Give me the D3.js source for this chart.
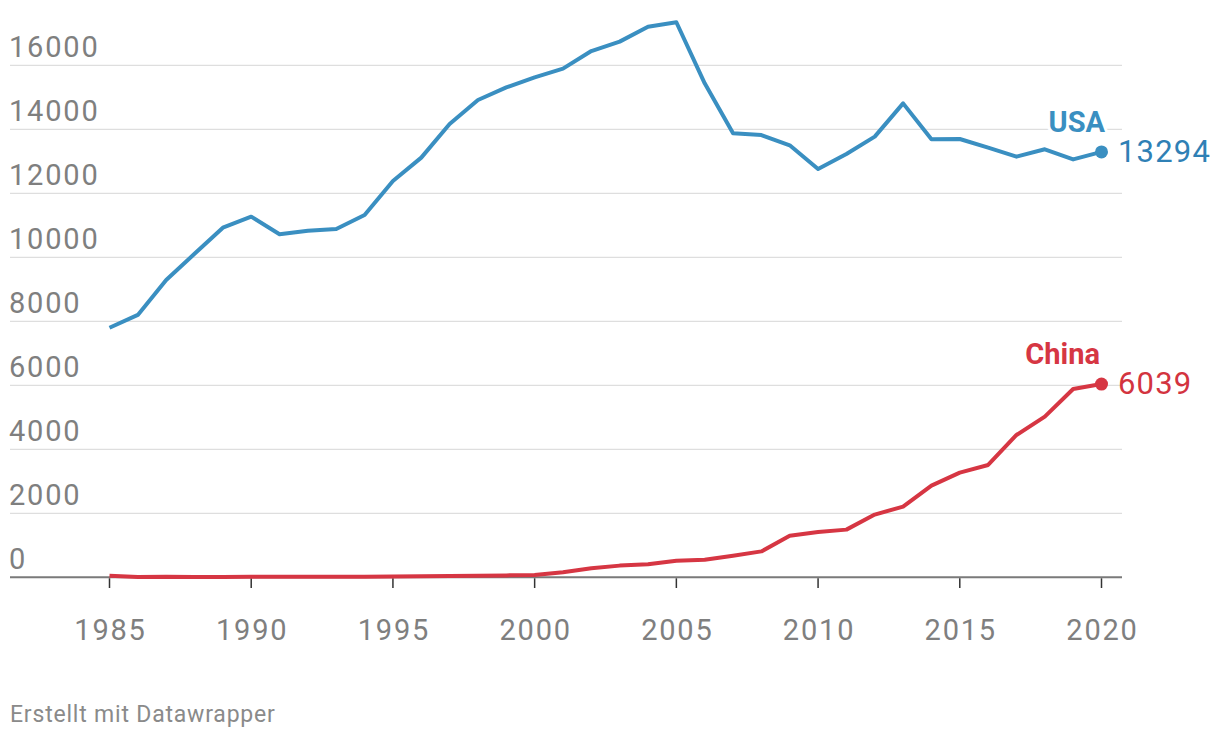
<html>
<head>
<meta charset="utf-8">
<script src="https://d3js.org/d3.v7.min.js"></script>
<style>
    body { margin: 0; background: #fff; }
    text { font-family: Roboto, "Noto Sans", sans-serif; }
</style>
</head>
<body>
<script>

    // data
    let years = d3.range(1985, 2021);
    let usa = [7800, 8200, 9290, 10110, 10925, 11270, 10720, 10830, 10885, 11320,
               12385, 13115, 14165, 14915, 15310, 15625, 15895, 16445, 16740, 17207,
               17345, 15437, 13875, 13820, 13500, 12760, 13230, 13770, 14810, 13687,
               13697, 13425, 13145, 13375, 13060, 13294];
    let china = [50, 10, 20, 10, 10, 20, 20, 20, 20, 20,
                 25, 30, 40, 50, 60, 72, 155, 280, 365, 405,
                 520, 550, 675, 810, 1300, 1415, 1490, 1960, 2210, 2865,
                 3270, 3510, 4447, 5020, 5885, 6039];
    let yTicks = [0, 2000, 4000, 6000, 8000, 10000, 12000, 14000, 16000];
    let xTicks = [1985, 1990, 1995, 2000, 2005, 2010, 2015, 2020];

    let series = [
        {name: "USA", values: usa, color: "#3a8fc1", text: "#2f80b5", labelX: 1105},
        {name: "China", values: china, color: "#d63643", text: "#d3343f", labelX: 1100}
    ];

    let svg = d3.select("body").append("svg")
        .attr("width", 1220)
        .attr("height", 742);

    let x = d3.scaleLinear().domain([1985, 2020]).range([109.5, 1101.5]);
    let y = d3.scaleLinear().domain([0, 16000]).range([577.3, 65.3]);

    //gridlines + y labels
    yTicks.forEach(t => {
        if (t > 0) {
            svg.append("line")
                .attr("x1", 10).attr("x2", 1122)
                .attr("y1", y(t)).attr("y2", y(t))
                .attr("stroke", "#d6d6d6")
                .attr("stroke-width", 1);
        }
        svg.append("text")
            .attr("x", 9)
            .attr("y", y(t) - 8)
            .attr("fill", "#7f7f7f")
            .style("font-size", "29px")
            .style("letter-spacing", "1.8px")
            .text(t);
    });

    //baseline
    svg.append("line")
        .attr("x1", 10).attr("x2", 1122)
        .attr("y1", y(0)).attr("y2", y(0))
        .attr("stroke", "#7a7a7a")
        .attr("stroke-width", 2);

    //x ticks
    xTicks.forEach(t => {
        svg.append("line")
            .attr("x1", x(t)).attr("x2", x(t))
            .attr("y1", y(0) + 1).attr("y2", 588)
            .attr("stroke", "#333")
            .attr("stroke-width", 1.5);
        svg.append("text")
            .attr("x", x(t) + 1)
            .attr("y", 640)
            .attr("text-anchor", "middle")
            .attr("fill", "#7f7f7f")
            .style("font-size", "29px")
            .style("letter-spacing", "1.8px")
            .text(t);
    });

    let line = d3.line()
        .x((d, i) => x(years[i]))
        .y(d => y(d));

    series.forEach(s => {
        svg.append("path")
            .datum(s.values)
            .attr("d", line)
            .attr("fill", "none")
            .attr("stroke", s.color)
            .attr("stroke-width", 4)
            .attr("stroke-linejoin", "round");

        let last = s.values[s.values.length - 1];
        svg.append("circle")
            .attr("cx", x(2020))
            .attr("cy", y(last))
            .attr("r", 6.5)
            .attr("fill", s.color);

        //series name, with white halo over the grid
        svg.append("text")
            .attr("x", s.labelX)
            .attr("y", y(last) - 20)
            .attr("text-anchor", "end")
            .attr("fill", s.color)
            .attr("stroke", "#fff")
            .attr("stroke-width", 6)
            .attr("paint-order", "stroke")
            .style("font-size", "29px")
            .style("font-weight", 700)
            .text(s.name);

        //last value
        svg.append("text")
            .attr("x", 1118)
            .attr("y", y(last) + 10)
            .attr("fill", s.text)
            .style("font-size", "31px")
            .style("letter-spacing", "1.2px")
            .text(last);
    });

    svg.append("text")
        .attr("x", 10)
        .attr("y", 722)
        .attr("fill", "#8a8a8a")
        .style("font-size", "23px")
        .style("letter-spacing", "0.8px")
        .text("Erstellt mit Datawrapper");

</script>
</body>
</html>
